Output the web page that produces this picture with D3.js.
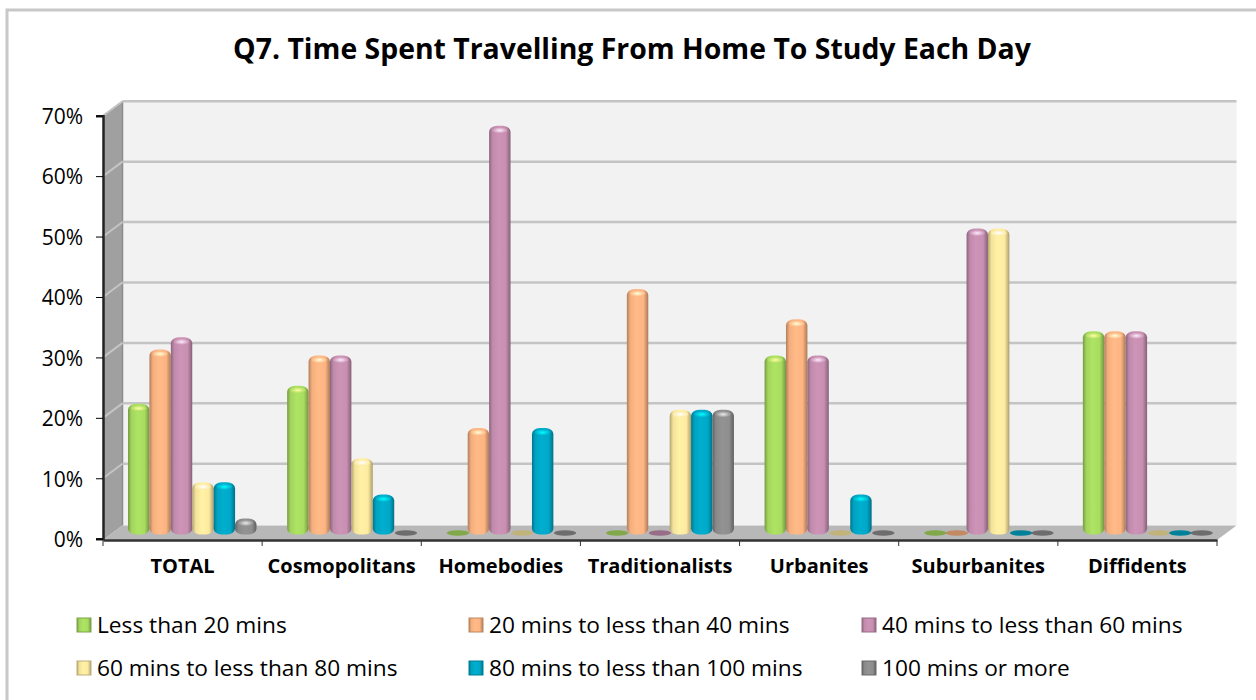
<!DOCTYPE html>
<html lang="en-GB">
<head>
<meta charset="UTF-8">
<title>Q7. Time Spent Travelling From Home To Study Each Day</title>
<script src="https://d3js.org/d3.v7.min.js"></script>
<style>
	html, body { margin: 0; padding: 0; background: #fff; }
	svg { display: block; }
	text { font-family: "Open Sans", "Noto Sans", sans-serif; fill: #000; }
	.title { font-size: 28.4px; font-weight: 700; }
	.y.axis text { font-size: 21px; }
	.x.axis text { font-size: 20px; font-weight: 700; }
	.legend text { font-size: 22.7px; }
</style>
</head>
<body>
<div id="main"></div>
<script>
var categories = ["TOTAL", "Cosmopolitans", "Homebodies", "Traditionalists", "Urbanites", "Suburbanites", "Diffidents"];
var seriesNames = ["Less than 20 mins", "20 mins to less than 40 mins", "40 mins to less than 60 mins",
	"60 mins to less than 80 mins", "80 mins to less than 100 mins", "100 mins or more"];
var under20 = [21, 24, 0, 0, 29, 0, 33];
var to40 = [30, 29, 17, 40, 35, 0, 33];
var to60 = [32, 29, 67, 0, 29, 50, 33];
var to80 = [8, 12, 0, 20, 0, 50, 0];
var to100 = [8, 6, 17, 20, 6, 0, 0];
var over100 = [2, 0, 0, 20, 0, 0, 0];
var seriesValues = [under20, to40, to60, to80, to100, over100];
var colours = ["#a8dc60", "#fdb482", "#c78fb1", "#fdeaa0", "#00a8c8", "#8e8e8e"];
var yTicks = [0, 10, 20, 30, 40, 50, 60, 70];

var width = 1256, height = 700,
	left = 103, right = 1217, top_ = 115.7, bottom = 538.7,
	depthX = 19.5, depthY = 14.5,
	floorY = 540;

var svg = d3.select("#main").append("svg")
	.attr("width", width)
	.attr("height", height);

var defs = svg.append("defs");

colours.forEach(function(c, i) {
	var base = d3.color(c);
	var g = defs.append("linearGradient").attr("id", "bar" + i);
	[[0, base.darker(1)], [0.16, base.darker(0.1)], [0.45, base.brighter(0.1)], [0.78, base], [1, base.darker(1.1)]]
		.forEach(function(s) {
			g.append("stop").attr("offset", s[0]).attr("stop-color", s[1].formatHex());
		});
	var r = defs.append("radialGradient").attr("id", "cap" + i);
	r.append("stop").attr("offset", 0).attr("stop-color", base.brighter(1.4).formatHex());
	r.append("stop").attr("offset", 1).attr("stop-color", base.formatHex());
});

// outer frame, only left and top show in the picture
svg.append("path")
	.attr("d", d3.line()([[7, height], [7, 10], [width, 10]]))
	.attr("fill", "none")
	.attr("stroke", "#c8c8c8")
	.attr("stroke-width", 3);

svg.append("text")
	.attr("class", "title")
	.attr("x", 632).attr("y", 59)
	.attr("text-anchor", "middle")
	.text("Q7. Time Spent Travelling From Home To Study Each Day");

var y = d3.scaleLinear().domain([0, 70]).range([bottom, top_]);
var x = d3.scaleBand().domain(categories).range([left, right]);
var xBar = d3.scaleBand().domain(d3.range(seriesNames.length)).range([25, 153.5]);

// back wall, side wall, floor
svg.append("rect")
	.attr("x", left + depthX).attr("y", y(70) - depthY)
	.attr("width", right - left).attr("height", bottom - top_ + 1)
	.attr("fill", "#f2f2f2");

svg.append("polygon")
	.attr("points", [[left, y(70)], [left + depthX, y(70) - depthY], [left + depthX, floorY - depthY], [left, floorY]].join(" "))
	.attr("fill", "#a0a0a0");

svg.append("line")
	.attr("x1", left + depthX).attr("x2", left + depthX)
	.attr("y1", y(70) - depthY).attr("y2", floorY - depthY)
	.attr("stroke", "#8c8c8c").attr("stroke-width", 1.5);

var grid = svg.append("g").selectAll("g")
	.data(yTicks.filter(function(d) { return d > 0; }))
	.enter().append("g");

grid.append("line")
	.attr("x1", left + depthX).attr("x2", right + depthX)
	.attr("y1", function(d) { return y(d) - depthY; })
	.attr("y2", function(d) { return y(d) - depthY; })
	.attr("stroke", "#c4c4c4").attr("stroke-width", 2.5);

grid.append("line")
	.attr("x1", left).attr("x2", left + depthX)
	.attr("y1", function(d) { return y(d); })
	.attr("y2", function(d) { return y(d) - depthY; })
	.attr("stroke", "#c4c4c4").attr("stroke-width", 2);

svg.append("polygon")
	.attr("points", [[left, floorY], [left + depthX, floorY - depthY], [right + depthX, floorY - depthY], [right, floorY]].join(" "))
	.attr("fill", "#b8b8b8");

// bars
var baseY = bottom - 4.2;
var groups = svg.append("g").selectAll("g")
	.data(categories)
	.enter().append("g")
	.attr("transform", function(d) { return "translate(" + x(d) + ",0)"; });

groups.each(function(cat, ci) {
	var g = d3.select(this);
	seriesValues.forEach(function(values, si) {
		var v = values[ci],
			bx = xBar(si),
			w = xBar.bandwidth(),
			yTop = y(v) - 8;
		if (v === 0) {
			g.append("ellipse")
				.attr("cx", bx + w / 2 + 1).attr("cy", baseY - 1.5)
				.attr("rx", w / 2 + 0.5).attr("ry", 2.8)
				.attr("fill", d3.color(colours[si]).darker(0.75).formatHex());
			return;
		}
		g.append("rect")
			.attr("x", bx).attr("y", yTop)
			.attr("width", w).attr("height", baseY - yTop)
			.attr("rx", 8).attr("ry", 6)
			.attr("fill", "url(#bar" + si + ")");
		g.append("ellipse")
			.attr("cx", bx + w / 2).attr("cy", yTop + 4.5)
			.attr("rx", w / 2 - 3).attr("ry", 3.2)
			.attr("fill", "url(#cap" + si + ")");
	});
});

// axes
var yAxis = d3.axisLeft(y)
	.tickValues(yTicks)
	.tickSize(7)
	.tickFormat(function(d) { return d + "%"; });

var yG = svg.append("g")
	.attr("class", "y axis")
	.attr("transform", "translate(" + left + ",0)")
	.call(yAxis);
yG.select(".domain").attr("stroke-width", 2.5).attr("stroke", "#222");
yG.selectAll(".tick text").attr("x", -20).attr("y", 1);

var xAxis = d3.axisBottom(x).tickSize(0).tickPadding(19);
var xG = svg.append("g")
	.attr("class", "x axis")
	.attr("transform", "translate(0," + floorY + ")")
	.call(xAxis);
xG.select(".domain").attr("stroke-width", 2.5).attr("stroke", "#333");

xG.selectAll("line.sep")
	.data(d3.range(categories.length + 1))
	.enter().append("line")
	.attr("class", "sep")
	.attr("x1", function(d) { return left + d * x.bandwidth(); })
	.attr("x2", function(d) { return left + d * x.bandwidth(); })
	.attr("y1", 0).attr("y2", 6)
	.attr("stroke", "#333");

// legend
var legendX = [77, 469, 862], legendY = [625, 668];
var legend = svg.append("g").attr("class", "legend")
	.selectAll("g")
	.data(seriesNames)
	.enter().append("g")
	.attr("transform", function(d, i) {
		return "translate(" + legendX[i % 3] + "," + legendY[Math.floor(i / 3)] + ")";
	});

legend.append("rect")
	.attr("x", 0).attr("y", -7)
	.attr("width", 14).attr("height", 14)
	.attr("fill", function(d, i) { return "url(#bar" + i + ")"; })
	.attr("stroke", function(d, i) { return d3.color(colours[i]).darker(0.8).formatHex(); })
	.attr("stroke-width", 1);

legend.append("text")
	.attr("x", 20).attr("y", 8)
	.text(function(d) { return d; });
</script>
</body>
</html>
